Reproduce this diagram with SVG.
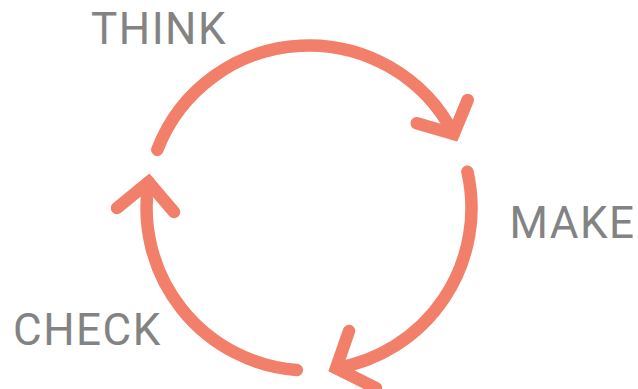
<svg xmlns="http://www.w3.org/2000/svg" width="638" height="389" viewBox="0 0 638 389">
<style>
.arc{fill:none;stroke:#F27F69;stroke-width:12.5;stroke-linecap:round;stroke-linejoin:miter}
.lbl{font-family:Roboto,"Liberation Sans",sans-serif;font-size:44px;font-weight:400;letter-spacing:1.5px;fill:#838383}
</style>
<rect width="638" height="389" fill="#ffffff"/>
<g id="connectors">
<path class="arc" d="M157.3,149.8 A162.5,162.5 0 0 1 453.7,134"/>
<polyline class="arc" points="467.7,100 453.7,134 416.7,123.3"/>
<path class="arc" d="M467.4,171.7 A162.5,162.5 0 0 1 336.1,368.2"/>
<polyline class="arc" points="349,331 336.1,368.2 376,388"/>
<path class="arc" d="M296.8,370 A162.5,162.5 0 0 1 148.6,182.2"/>
<polyline class="arc" points="117,208 148.6,182.2 174,212"/>
</g>
<g id="think"><text class="lbl" x="91" y="44">THINK</text></g>
<g id="make"><text class="lbl" x="509.5" y="238">MAKE</text></g>
<g id="check"><text class="lbl" x="13" y="345">CHECK</text></g>
</svg>
